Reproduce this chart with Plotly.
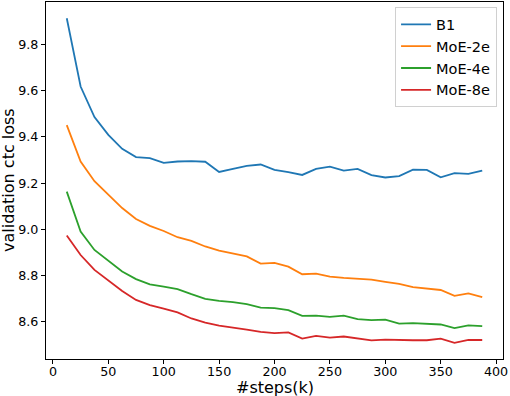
import plotly.graph_objects as go

steps = [12.5 * i for i in range(1, 32)]

b1 = [9.912, 9.617, 9.485, 9.408, 9.348, 9.312, 9.308, 9.287, 9.293, 9.295,
      9.292, 9.248, 9.261, 9.274, 9.280, 9.257, 9.247, 9.235, 9.261, 9.271,
      9.254, 9.261, 9.234, 9.224, 9.230, 9.258, 9.257, 9.225, 9.243, 9.240, 9.254]

moe2 = [9.450, 9.293, 9.208, 9.149, 9.092, 9.045, 9.015, 8.993, 8.966, 8.950,
        8.926, 8.908, 8.897, 8.883, 8.852, 8.855, 8.839, 8.806, 8.809, 8.796,
        8.790, 8.785, 8.783, 8.773, 8.764, 8.750, 8.743, 8.738, 8.713, 8.723, 8.707]

moe4 = [9.163, 8.990, 8.911, 8.865, 8.818, 8.785, 8.762, 8.753, 8.742, 8.720,
        8.700, 8.691, 8.686, 8.677, 8.662, 8.660, 8.651, 8.626, 8.627, 8.622,
        8.627, 8.612, 8.608, 8.610, 8.593, 8.595, 8.593, 8.589, 8.573, 8.585, 8.582]

moe8 = [8.973, 8.889, 8.825, 8.778, 8.734, 8.695, 8.673, 8.658, 8.641, 8.615,
        8.597, 8.584, 8.577, 8.567, 8.557, 8.552, 8.555, 8.528, 8.540, 8.532,
        8.537, 8.527, 8.520, 8.524, 8.521, 8.521, 8.521, 8.528, 8.510, 8.522, 8.522]

names = ["B1", "MoE-2e", "MoE-4e", "MoE-8e"]
series = [b1, moe2, moe4, moe8]
colors = ["#1f77b4", "#ff7f0e", "#2ca02c", "#d62728"]

x_ticks = [0, 50, 100, 150, 200, 250, 300, 350, 400]
y_ticks = [8.6, 8.8, 9.0, 9.2, 9.4, 9.6, 9.8]
x_title = "#steps(k)"
y_title = "validation ctc loss"

fig = go.Figure()
for n, s, c in zip(names, series, colors):
    fig.add_trace(go.Scatter(x=steps, y=s, mode="lines", name=n,
                             line=dict(color=c, width=1.8)))

xmin, xmax = min(steps), max(steps)
ymin = min(min(s) for s in series)
ymax = max(max(s) for s in series)
xm = (xmax - xmin) * 0.05
ym = (ymax - ymin) * 0.05

font = "DejaVu Sans"
fig.update_layout(
    width=510, height=396,
    margin=dict(l=46, r=7, t=2, b=37, autoexpand=False),
    paper_bgcolor="white", plot_bgcolor="white",
    font=dict(family=font, color="black", size=12.7),
    showlegend=True,
    legend=dict(x=0.987, y=0.985, xanchor="right", yanchor="top",
                bgcolor="rgba(255,255,255,0.8)", bordercolor="#d0d0d0", borderwidth=1,
                font=dict(family=font, size=14.5, color="black"),
                tracegroupgap=0, itemwidth=30),
    annotations=[
        dict(text=x_title, xref="paper", yref="paper", x=0.5, y=-0.081,
             xanchor="center", yanchor="middle", showarrow=False,
             font=dict(family=font, size=16, color="black")),
        dict(text=y_title, xref="paper", yref="paper", x=-0.082, y=0.5,
             xanchor="center", yanchor="middle", showarrow=False, textangle=-90,
             font=dict(family=font, size=16, color="black")),
    ],
)
fig.update_xaxes(
    range=[xmin - xm, xmax + xm], tickvals=x_ticks, ticktext=[str(v) for v in x_ticks],
    showgrid=False, zeroline=False, showline=True, linecolor="black", linewidth=1,
    mirror=True, ticks="outside", ticklen=4, tickcolor="black", tickwidth=1,
    ticklabelstandoff=-3, automargin=False,
)
fig.update_yaxes(
    range=[ymin - ym, ymax + ym], tickvals=y_ticks, ticktext=[f"{v:.1f}" for v in y_ticks],
    showgrid=False, zeroline=False, showline=True, linecolor="black", linewidth=1,
    mirror=True, ticks="outside", ticklen=4, tickcolor="black", tickwidth=1,
    automargin=False,
)

fig.write_html("out.html", config={"displayModeBar": False},
               post_script="document.body.style.margin='0';")
